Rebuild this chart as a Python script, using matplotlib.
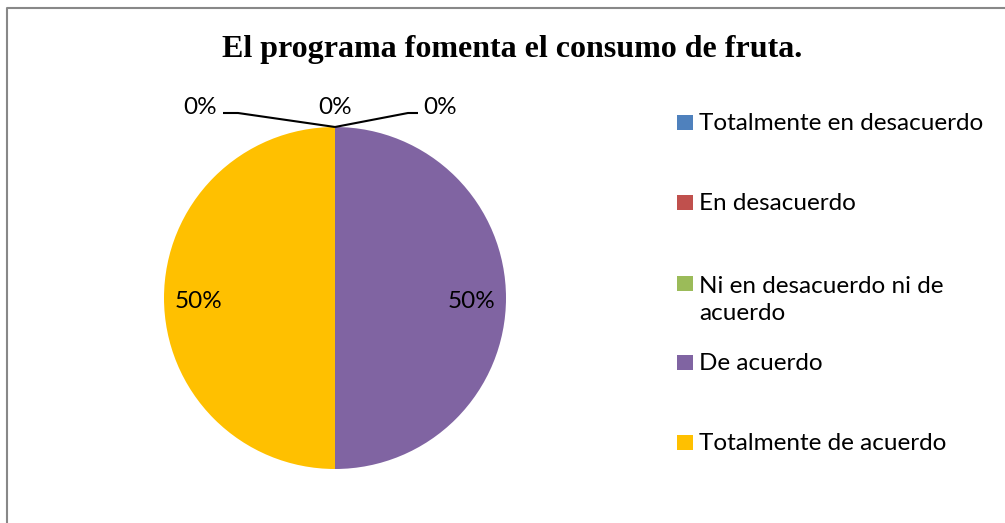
import numpy as np
import matplotlib.pyplot as plt

# Data
categorias = [
    "Totalmente en desacuerdo",
    "En desacuerdo",
    "Ni en desacuerdo ni de\nacuerdo",
    "De acuerdo",
    "Totalmente de acuerdo",
]
porcentajes = [0, 0, 0, 50, 50]
colores = ["#4F81BD", "#C0504D", "#9BBB59", "#8064A2", "#FFC000"]
titulo = "El programa fomenta el consumo de fruta."

W, H = 1005, 523
fig = plt.figure(figsize=(W / 100, H / 100), dpi=100)
ax = fig.add_axes([0, 0, 1, 1])

# pie drawn in pixel units (y up)
cx, cy, r = 335, 225, 171
wedges, _ = ax.pie(
    porcentajes,
    colors=colores,
    startangle=90,
    counterclock=False,
    center=(cx, cy),
    radius=r,
    wedgeprops=dict(linewidth=0),
)
ax.set_xlim(0, W)
ax.set_ylim(0, H)
ax.axis("off")

lab_font = ["Lato", "DejaVu Sans"]
fs = 17.5

# 50% labels inside the wedges
for w, v in zip(wedges, porcentajes):
    if v == 0:
        continue
    mid = (w.theta1 + w.theta2) / 2
    x = cx + np.cos(np.radians(mid)) * r * 0.8
    ax.text(x, cy - 3, f"{v}%", ha="center", va="center",
            fontsize=fs, family=lab_font)

# 0% labels with leader lines
ceros = [w for w, v in zip(wedges, porcentajes) if v == 0]
ang = np.radians(ceros[0].theta1)
px, py = cx + np.cos(ang) * r, cy + np.sin(ang) * r
ax.plot([px, 238, 223], [py, H - 113, H - 113], color="black", lw=1.5,
        solid_capstyle="butt")
ax.plot([px, 408, 418], [py, H - 113, H - 113], color="black", lw=1.5,
        solid_capstyle="butt")
ax.text(217, H - 107, "0%", ha="right", va="center", fontsize=fs, family=lab_font)
ax.text(cx, H - 107, "0%", ha="center", va="center", fontsize=fs, family=lab_font)
ax.text(423, H - 107, "0%", ha="left", va="center", fontsize=fs, family=lab_font)

# Title
ax.text(512, H - 49, titulo, ha="center", va="center", fontsize=23,
        fontweight="bold", family="Liberation Serif")

# Legend
leg_y = [122, 202, 283, 362, 442]
for cat, col, y in zip(categorias, colores, leg_y):
    ax.add_patch(plt.Rectangle((677, H - y - 7.5), 16, 15, color=col, lw=0))
    ty = y + 17 if "\n" in cat else y + 1
    ax.text(699, H - ty, cat, ha="left", va="center",
            fontsize=fs, family=lab_font, linespacing=1.35)

# Border
ax.plot([6.5, 6.5, W], [0, H - 8, H - 8], color="#888888", lw=1.5)

plt.savefig("out.png", dpi=100)
